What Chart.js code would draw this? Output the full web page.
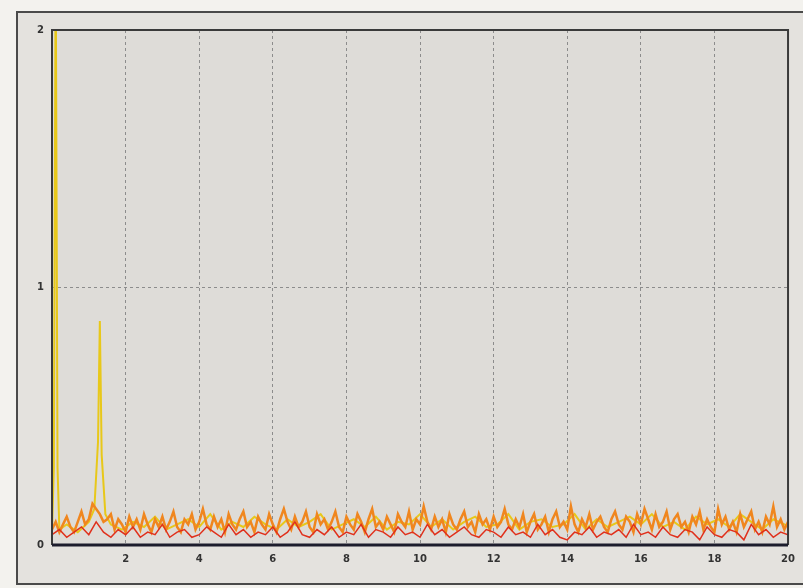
<!DOCTYPE html>
<html><head><meta charset="utf-8">
<script src="https://cdn.jsdelivr.net/npm/chart.js@4"></script>
<style>html,body{margin:0;padding:0;background:#f3f2ee;}#wrap{width:803px;height:588px;position:relative;}</style>
</head><body><div id="wrap"><canvas id="c" width="803" height="588"></canvas></div>
<script>
const xTicks = [0,2,4,6,8,10,12,14,16,18,20];
const yTicks = [0,1,2];
const orangeStep = 0.1;
const orange = [
0.06,0.09,0.05,0.08,0.11,0.07,0.05,0.09,0.13,0.08,
0.10,0.16,0.14,0.12,0.09,0.10,0.12,0.06,0.10,0.08,
0.05,0.11,0.07,0.10,0.06,0.12,0.08,0.05,0.10,0.07,
0.11,0.06,0.09,0.13,0.07,0.05,0.10,0.08,0.12,0.06,
0.09,0.14,0.08,0.06,0.11,0.07,0.10,0.05,0.12,0.08,
0.06,0.10,0.13,0.07,0.09,0.05,0.11,0.08,0.06,0.12,
0.08,0.05,0.10,0.14,0.09,0.06,0.11,0.07,0.09,0.13,
0.07,0.05,0.12,0.08,0.10,0.06,0.09,0.13,0.07,0.05,
0.11,0.08,0.06,0.12,0.09,0.05,0.10,0.14,0.07,0.09,
0.06,0.11,0.08,0.05,0.12,0.09,0.07,0.13,0.06,0.10,
0.08,0.15,0.09,0.06,0.11,0.07,0.10,0.05,0.12,0.08,
0.06,0.10,0.13,0.07,0.09,0.05,0.12,0.08,0.10,0.06,
0.11,0.07,0.09,0.14,0.08,0.06,0.10,0.07,0.12,0.05,
0.09,0.12,0.06,0.08,0.11,0.05,0.10,0.13,0.07,0.09,
0.06,0.15,0.08,0.05,0.10,0.07,0.12,0.06,0.09,0.11,
0.07,0.05,0.10,0.13,0.08,0.06,0.11,0.09,0.05,0.12,
0.08,0.14,0.10,0.06,0.12,0.07,0.09,0.13,0.06,0.10,
0.12,0.07,0.09,0.05,0.11,0.08,0.13,0.06,0.10,0.07,
0.05,0.14,0.08,0.11,0.06,0.09,0.05,0.12,0.07,0.10,
0.13,0.06,0.09,0.05,0.11,0.08,0.15,0.07,0.10,0.06,
0.09];
const redStep = 0.2;
const red = [
0.04,0.06,0.03,0.05,0.07,0.04,0.09,0.05,0.03,0.06,
0.04,0.07,0.03,0.05,0.04,0.08,0.03,0.05,0.06,0.03,
0.04,0.07,0.05,0.03,0.08,0.04,0.06,0.03,0.05,0.04,
0.07,0.03,0.05,0.09,0.04,0.03,0.06,0.04,0.07,0.03,
0.05,0.04,0.08,0.03,0.06,0.05,0.03,0.07,0.04,0.05,
0.03,0.08,0.04,0.06,0.03,0.05,0.07,0.04,0.03,0.06,
0.05,0.03,0.07,0.04,0.05,0.03,0.08,0.04,0.06,0.03,
0.02,0.05,0.04,0.07,0.03,0.05,0.04,0.06,0.03,0.08,
0.04,0.05,0.03,0.07,0.04,0.03,0.06,0.05,0.02,0.07,
0.04,0.03,0.06,0.05,0.02,0.08,0.04,0.06,0.03,0.05,
0.04];
const yellowX = [0,0.05,0.1,0.15,0.2,0.4,0.7,1.0,1.15,1.25,1.3,1.35,1.45,1.6,1.9,
2.2,2.5,2.8,3.1,3.4,3.7,4.0,4.3,4.6,4.9,5.2,5.5,5.8,6.1,6.4,6.7,7.0,7.3,7.6,7.9,
8.2,8.5,8.8,9.1,9.4,9.7,10.0,10.3,10.6,10.9,11.2,11.5,11.8,12.1,12.4,12.7,13.0,
13.3,13.6,13.9,14.2,14.5,14.8,15.1,15.4,15.7,16.0,16.3,16.6,16.9,17.2,17.5,17.8,
18.1,18.4,18.7,19.0,19.3,19.6,19.9,20];
const yellowY = [0.05,0.3,2.3,0.3,0.06,0.08,0.05,0.09,0.14,0.4,0.87,0.35,0.12,0.08,0.06,
0.09,0.07,0.11,0.06,0.08,0.10,0.07,0.12,0.06,0.09,0.07,0.11,0.08,0.06,0.10,0.07,0.09,0.12,0.06,0.08,
0.10,0.07,0.11,0.06,0.09,0.08,0.12,0.07,0.10,0.06,0.09,0.11,0.07,0.08,0.12,0.06,0.09,
0.10,0.07,0.08,0.12,0.06,0.10,0.07,0.09,0.11,0.08,0.12,0.07,0.09,0.06,0.11,0.08,
0.10,0.07,0.12,0.09,0.06,0.10,0.08,0.07];

const pts = (arr, step) => arr.map((v,i)=>({x:+(i*step).toFixed(2), y:v}));
const yellowPts = yellowX.map((x,i)=>({x:x, y:yellowY[i]}));

const frame = {
  id:'frame',
  beforeDraw(chart){
    const c = chart.ctx, a = chart.chartArea;
    c.save();
    c.fillStyle = '#e4e2de';
    c.fillRect(17,12,786,572);
    c.strokeStyle = '#4a4a4a'; c.lineWidth = 2;
    c.strokeRect(17,12,790,572);
    c.fillStyle = '#dedcd8';
    c.fillRect(a.left,a.top,a.right-a.left,a.bottom-a.top);
    c.restore();
  },
  afterDraw(chart){
    const c = chart.ctx, a = chart.chartArea;
    c.save();
    c.strokeStyle = '#3a3a3a'; c.lineWidth = 2;
    c.beginPath();
    c.moveTo(a.left,a.bottom); c.lineTo(a.left,a.top); c.lineTo(a.right,a.top); c.lineTo(a.right,a.bottom);
    c.stroke();
    c.strokeStyle = '#1c1c2c'; c.lineWidth = 3;
    c.beginPath(); c.moveTo(a.left,a.bottom); c.lineTo(a.right,a.bottom); c.stroke();
    c.restore();
  }
};

new Chart(document.getElementById('c'), {
  type:'line',
  data:{datasets:[
    {label:'orange', data:pts(orange,orangeStep), borderColor:'#f0861e', borderWidth:2.5, pointRadius:0, tension:0, order:2},
    {label:'yellow', data:yellowPts, borderColor:'#e8c81a', borderWidth:2, pointRadius:0, tension:0, order:3},
    {label:'red', data:pts(red,redStep), borderColor:'#e0301c', borderWidth:1.5, pointRadius:0, tension:0, order:1}
  ]},
  options:{
    responsive:false, animation:false, parsing:true,
    layout:{padding:{left:17,top:30,right:10,bottom:13}},
    plugins:{legend:{display:false}, tooltip:{enabled:false}},
    scales:{
      x:{type:'linear', min:0, max:20,
        afterBuildTicks(s){ s.ticks = xTicks.map(v=>({value:v})); },
        afterFit(s){ s.height = 30; },
        ticks:{color:'#333', font:{family:'DejaVu Sans', size:10, weight:'bold'}, maxRotation:0, padding:8,
          callback:(v)=> v===0 ? '' : String(v)},
        grid:{color:(ctx)=> (ctx.tick && (ctx.tick.value===0||ctx.tick.value===20)) ? 'rgba(0,0,0,0)' : '#8c8c8c',
          lineWidth:1, drawTicks:false, tickLength:0},
        border:{display:false, dash:[3,3]}
      },
      y:{min:0, max:2,
        afterBuildTicks(s){ s.ticks = yTicks.map(v=>({value:v})); },
        afterFit(s){ s.width = 35; },
        ticks:{color:'#333', font:{family:'DejaVu Sans', size:10, weight:'bold'}, padding:8},
        grid:{color:(ctx)=> (ctx.tick && ctx.tick.value===1) ? '#8c8c8c' : 'rgba(0,0,0,0)', drawTicks:false},
        border:{display:false, dash:[3,3]}
      }
    }
  },
  plugins:[frame]
});
</script></body></html>
